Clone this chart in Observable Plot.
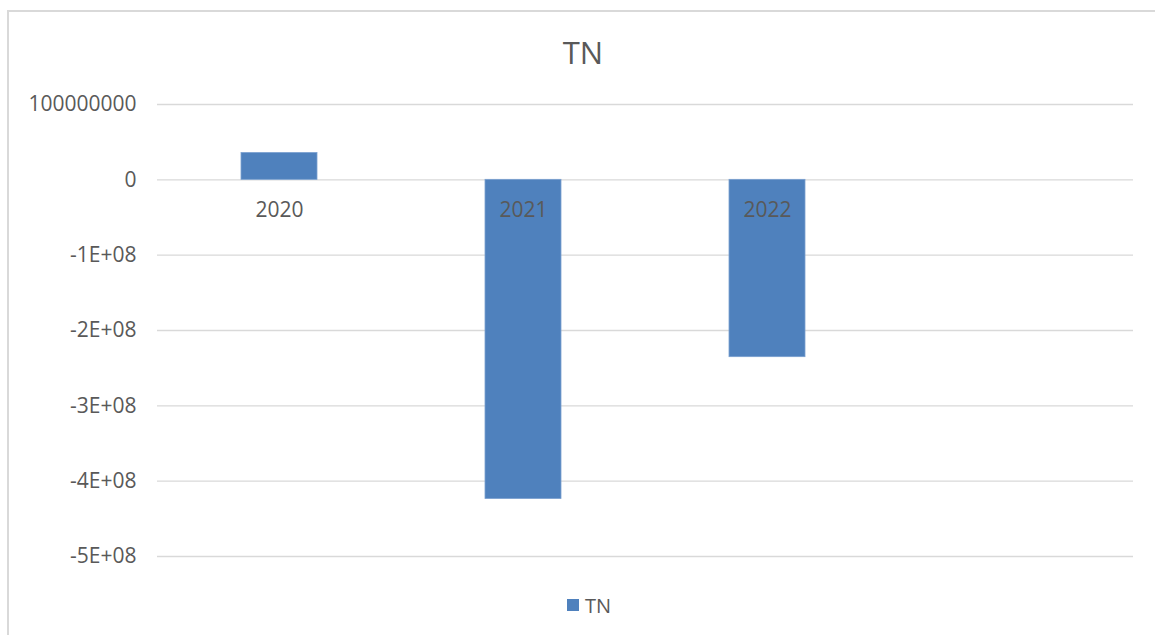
<!DOCTYPE html>
<html>
<head>
<meta charset="utf-8">
<script src="https://cdn.jsdelivr.net/npm/d3@7"></script>
<script src="https://cdn.jsdelivr.net/npm/@observablehq/plot@0.6"></script>
<style>
  html, body { margin: 0; padding: 0; background: #fff; overflow: hidden; }
  #wrap { position: relative; width: 1155px; height: 635px; font-family: "Open Sans", sans-serif; color: #595959; }
  #border { position: absolute; left: 7px; top: 10px; width: 1300px; height: 800px; border-left: 2px solid #d9d9d9; border-top: 2px solid #d9d9d9; box-sizing: border-box; }
  #chart { position: absolute; left: 0; top: 0; }
  #title { position: absolute; left: 433px; width: 300px; top: 30px; text-align: center; font-size: 31px; line-height: 44px; color: #595959; }
  #legend { position: absolute; left: 567px; top: 590px; height: 30px; display: flex; align-items: center; font-size: 20px; color: #595959; }
  #legend .sw { width: 12px; height: 12px; background: #4f81bd; margin-right: 6px; }
</style>
</head>
<body>
<div id="wrap">
  <div id="border"></div>
  <div id="chart"></div>
  <div id="title">TN</div>
  <div id="legend"><span class="sw"></span><span>TN</span></div>
</div>
<script>
// Data
const categories = ["2020", "2021", "2022", ""];
const years = ["2020", "2021", "2022"];
const tnValues = [35600000, -423700000, -235400000];
const yTicks = [100000000, 0, -100000000, -200000000, -300000000, -400000000, -500000000];
const yTickLabels = ["100000000", "0", "-1E+08", "-2E+08", "-3E+08", "-4E+08", "-5E+08"];

const data = years.map((y, i) => ({year: y, value: tnValues[i]}));
const tickLabel = new Map(yTicks.map((t, i) => [t, yTickLabels[i]]));

const chart = Plot.plot({
  width: 1155,
  height: 635,
  marginLeft: 157,
  marginRight: 22,
  marginTop: 104,
  marginBottom: 79,
  style: { fontFamily: "'Open Sans', sans-serif", background: "transparent", color: "#595959" },
  x: { domain: categories, paddingInner: 0.69, paddingOuter: 0.345, axis: null },
  y: { domain: [-500000000, 100000000], ticks: yTicks, axis: null },
  marks: [
    Plot.gridY(yTicks, { stroke: "#d9d9d9", strokeOpacity: 1, strokeWidth: 1.3 }),
    Plot.barY(data, { x: "year", y: "value", fill: "#4f81bd", stroke: "#7aa0d0", strokeWidth: 0.8 }),
    Plot.axisY(yTicks, { tickSize: 0, tickPadding: 21, tickFormat: d => tickLabel.get(d), fontSize: 21, fill: "#595959", label: null }),
    Plot.text(years, { x: d => d, y: () => 0, dy: 30, fontSize: 21, fill: "#595959", text: d => d })
  ]
});
document.getElementById("chart").appendChild(chart);
</script>
</body>
</html>
